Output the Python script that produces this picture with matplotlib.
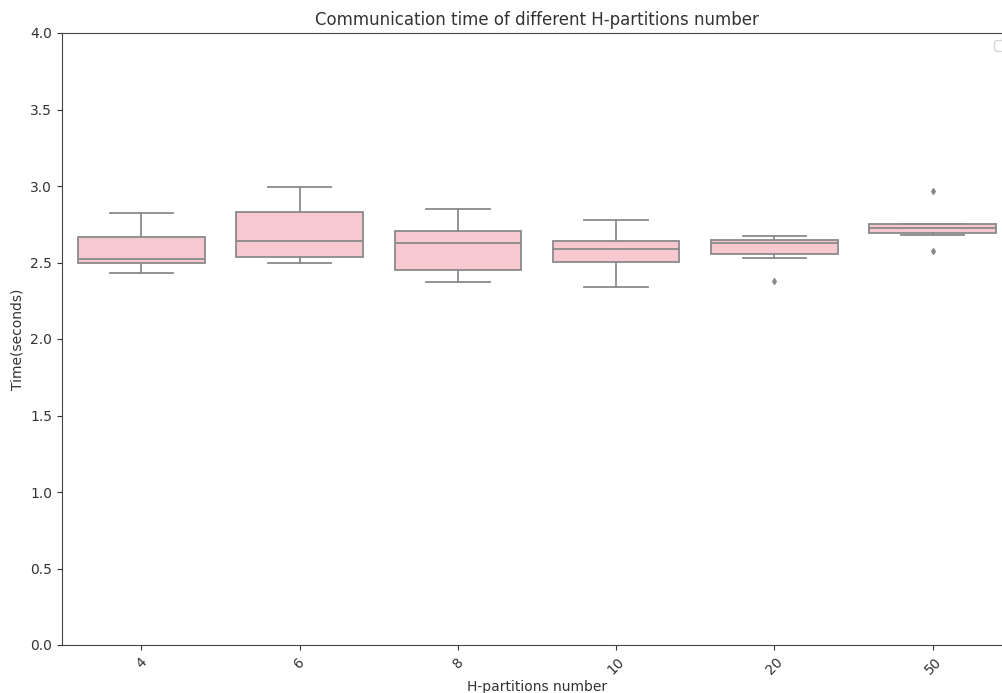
import matplotlib
matplotlib.use('Agg')
from matplotlib import pyplot as plt

# partitions and box statistics
partitions = ['4', '6', '8', '10', '20', '50']
whisker_low = [2.43, 2.50, 2.37, 2.34, 2.53, 2.68]
q1 = [2.497, 2.536, 2.451, 2.503, 2.556, 2.693]
median = [2.523, 2.641, 2.627, 2.588, 2.627, 2.725]
q3 = [2.667, 2.830, 2.706, 2.641, 2.647, 2.752]
whisker_high = [2.824, 2.993, 2.850, 2.778, 2.673, 2.752]
outliers = [[], [], [], [], [2.379], [2.575, 2.967]]

box_color = '#f7c8d0'
line_color = '#8a8a8a'

plt.rcParams['text.color'] = '#333333'
plt.rcParams['axes.labelcolor'] = '#333333'
plt.rcParams['xtick.color'] = '#333333'
plt.rcParams['ytick.color'] = '#333333'
plt.rcParams['axes.edgecolor'] = '#444444'

stats = []
for i in range(len(partitions)):
    stats.append({'label': partitions[i], 'whislo': whisker_low[i], 'q1': q1[i],
                  'med': median[i], 'q3': q3[i], 'whishi': whisker_high[i],
                  'fliers': outliers[i]})

fig = plt.figure(figsize=(10.03, 6.93), dpi=100)
ax = fig.add_axes([62 / 1003, 1 - 645 / 693, (1012 - 62) / 1003, (645 - 33) / 693])

lw = 1.3
ax.bxp(stats, positions=range(len(partitions)), widths=0.8, capwidths=0.4,
       patch_artist=True,
       boxprops=dict(facecolor=box_color, edgecolor=line_color, linewidth=lw),
       medianprops=dict(color=line_color, linewidth=lw),
       whiskerprops=dict(color=line_color, linewidth=lw),
       capprops=dict(color=line_color, linewidth=lw),
       flierprops=dict(marker='d', markersize=3, markerfacecolor=line_color,
                       markeredgecolor=line_color))

ax.set_xlim(-0.5, len(partitions) - 0.5)
ax.set_ylim(0, 4.0)
ax.set_yticks([0, 0.5, 1.0, 1.5, 2.0, 2.5, 3.0, 3.5, 4.0])
ax.set_xticks(range(len(partitions)))
ax.set_xticklabels(partitions, rotation=45)
ax.set_xlabel('H-partitions number', labelpad=2)
ax.set_ylabel('Time(seconds)')
ax.set_title('Communication time of different H-partitions number')
ax.legend(handles=[], loc='upper right')

fig.savefig('out.png', dpi=100)
